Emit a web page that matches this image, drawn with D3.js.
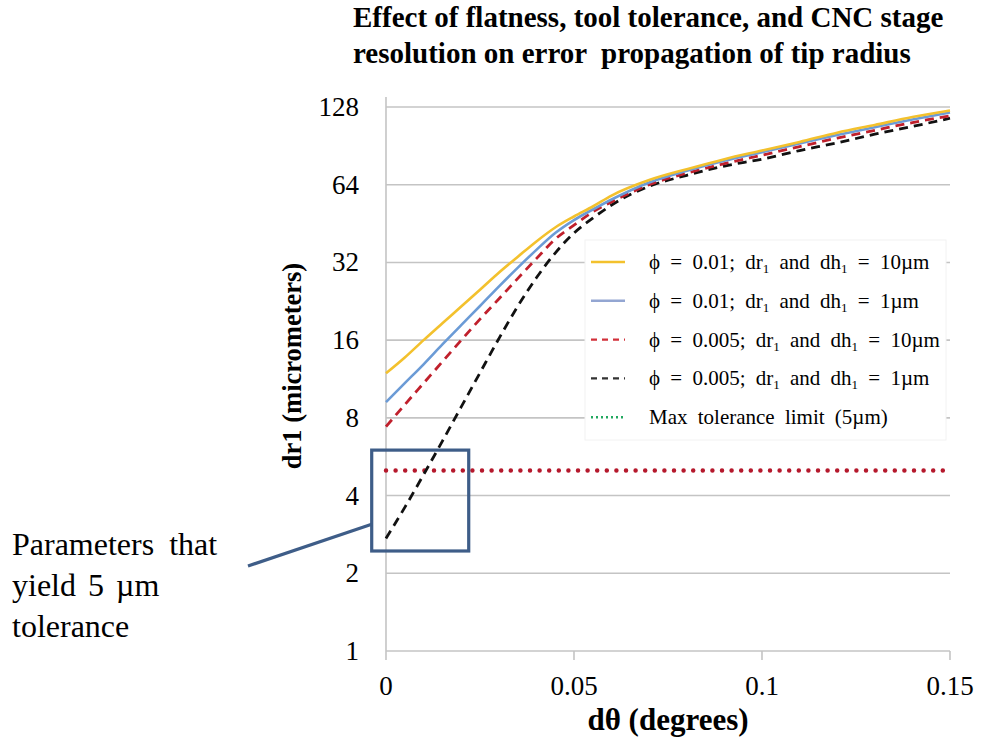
<!DOCTYPE html>
<html>
<head>
<meta charset="utf-8">
<script src="https://cdn.jsdelivr.net/npm/d3@7"></script>
<style>
  body { margin: 0; background: #fff; }
  text { font-family: "Liberation Serif", "Times New Roman", serif; fill: #000; }
</style>
</head>
<body>
<div id="chart"></div>
<script>
// data
const dtheta = [0, 0.005, 0.01, 0.015, 0.02, 0.025, 0.03, 0.035, 0.04, 0.045, 0.05,
  0.055, 0.06, 0.07, 0.08, 0.09, 0.1, 0.11, 0.12, 0.13, 0.14, 0.15];
const phi01_10um = [11.9, 13.7, 16, 18.6, 21.6, 25.1, 29.2, 33.6, 38.6, 43.7, 48.2,
  52.7, 58.1, 66.7, 73.5, 80.4, 86.8, 93.7, 101.8, 109.1, 117.0, 124.1];
const phi01_1um = [9.2, 10.9, 12.9, 15.4, 18.3, 21.7, 25.8, 30.5, 35.8, 41.6, 46.7,
  51.3, 56.1, 65.3, 72.5, 79.3, 85.6, 92.4, 99.7, 106.9, 114.5, 121.9];
const phi005_10um = [7.4, 9.0, 10.9, 13.2, 16, 19.3, 23.1, 27.7, 33.1, 39.4, 44.6,
  50.2, 54.9, 64, 71, 77.2, 83.3, 89.9, 97, 104, 111.4, 118.3];
const phi005_1um = [2.73, 3.6, 4.82, 6.5, 8.82, 11.96, 16.2, 21.6, 27.9, 34.8, 41.6,
  47.5, 53.4, 63.1, 69.6, 75.6, 80.4, 86.8, 93, 100.4, 107.6, 115.8];
const toleranceLimit = 5;

const yTicks = [1, 2, 4, 8, 16, 32, 64, 128];
const xTicks = [0, 0.05, 0.1, 0.15];
const xTickLabels = ["0", "0.05", "0.1", "0.15"];

// region of the parameters that give 5 um
const boxX = [-0.0038, 0.022];
const boxY = [2.44, 6.0];

const width = 981, height = 740;

const svg = d3.select("#chart")
  .append("svg")
  .attr("width", width)
  .attr("height", height)
  .attr("viewBox", [0, 0, width, height]);

const x = d3.scaleLinear().domain([0, 0.15]).range([386, 950]);
const y = d3.scaleLog().base(2).domain([1, 128]).range([651, 107]);

// gridlines
svg.append("g").selectAll("line")
  .data(yTicks)
  .join("line")
  .attr("x1", x(0))
  .attr("x2", x(0.15))
  .attr("y1", d => y(d))
  .attr("y2", d => y(d))
  .attr("stroke", "#c4c4c4")
  .attr("stroke-width", 1.6);

// y axis line + x ticks
svg.append("line")
  .attr("x1", x(0)).attr("x2", x(0))
  .attr("y1", y(128) - 10).attr("y2", y(1) + 9)
  .attr("stroke", "#c4c4c4").attr("stroke-width", 1.6);

svg.append("g").selectAll("line")
  .data(xTicks.slice(1))
  .join("line")
  .attr("x1", d => x(d)).attr("x2", d => x(d))
  .attr("y1", y(1)).attr("y2", y(1) + 9)
  .attr("stroke", "#c4c4c4").attr("stroke-width", 1.6);

// tick labels
svg.append("g").selectAll("text")
  .data(yTicks)
  .join("text")
  .attr("x", x(0) - 27)
  .attr("y", d => y(d) + 9)
  .attr("text-anchor", "end")
  .attr("font-size", 27)
  .text(d => d);

svg.append("g").selectAll("text")
  .data(xTicks)
  .join("text")
  .attr("x", d => x(d))
  .attr("y", 695)
  .attr("text-anchor", "middle")
  .attr("font-size", 27)
  .text((d, i) => xTickLabels[i]);

// axis titles
svg.append("text")
  .attr("x", 668)
  .attr("y", 730)
  .attr("text-anchor", "middle")
  .attr("font-size", 31)
  .attr("font-weight", "bold")
  .text("dθ (degrees)");

svg.append("text")
  .attr("transform", "translate(301,366) rotate(-90)")
  .attr("text-anchor", "middle")
  .attr("font-size", 26.5)
  .attr("font-weight", "bold")
  .text("dr1 (micrometers)");

// title
const title = svg.append("text")
  .attr("font-size", 29)
  .attr("font-weight", "bold");
title.append("tspan").attr("x", 353).attr("y", 27)
  .text("Effect of flatness, tool tolerance, and CNC stage");
title.append("tspan").attr("x", 353).attr("y", 63)
  .attr("xml:space", "preserve")
  .text("resolution on error  propagation of tip radius");

// tolerance limit (dotted)
svg.append("line")
  .attr("x1", x(0)).attr("x2", x(0.15))
  .attr("y1", y(toleranceLimit)).attr("y2", y(toleranceLimit))
  .attr("stroke", "#b5182c")
  .attr("stroke-width", 4.5)
  .attr("stroke-linecap", "round")
  .attr("stroke-dasharray", "0,9.6");

const series = [
  { values: phi005_1um, color: "#111111", dash: "9,6", w: 2.8 },
  { values: phi005_10um, color: "#c0202c", dash: "9,6", w: 2.8 },
  { values: phi01_1um, color: "#6b9bd6", dash: null, w: 2.6 },
  { values: phi01_10um, color: "#f3c12d", dash: null, w: 2.6 }
];

const line = d3.line()
  .x((d, i) => x(dtheta[i]))
  .y(d => y(d))
  .curve(d3.curveMonotoneX);

svg.append("g").selectAll("path")
  .data(series)
  .join("path")
  .attr("d", d => line(d.values))
  .attr("fill", "none")
  .attr("stroke", d => d.color)
  .attr("stroke-width", d => d.w)
  .attr("stroke-dasharray", d => d.dash);

// legend
const legendItems = [
  { parts: ["ϕ = 0.01; dr", "1", " and dh", "1", " = 10µm"], color: "#f3c12d", dash: null, w: 2.4 },
  { parts: ["ϕ = 0.01; dr", "1", " and dh", "1", " = 1µm"], color: "#93a6d2", dash: null, w: 2.4 },
  { parts: ["ϕ = 0.005; dr", "1", " and dh", "1", " = 10µm"], color: "#d2303a", dash: "6,5", w: 2.4 },
  { parts: ["ϕ = 0.005; dr", "1", " and dh", "1", " = 1µm"], color: "#333333", dash: "6,5", w: 2.4 },
  { parts: ["Max tolerance limit (5µm)"], color: "#22a860", dash: "2,3", w: 2.4 }
];

const legend = svg.append("g");
legend.append("rect")
  .attr("x", 585).attr("y", 240)
  .attr("width", 361).attr("height", 200)
  .attr("fill", "#fff")
  .attr("stroke", "#f2f2f2");

const rows = legend.selectAll("g.row")
  .data(legendItems)
  .join("g")
  .attr("class", "row")
  .attr("transform", (d, i) => `translate(0,${262 + i * 38.8})`);

rows.append("line")
  .attr("x1", 591).attr("x2", 625)
  .attr("stroke", d => d.color)
  .attr("stroke-width", d => d.w)
  .attr("stroke-dasharray", d => d.dash);

rows.append("text")
  .attr("x", 649)
  .attr("y", 7)
  .attr("font-size", 21)
  .attr("word-spacing", 5)
  .attr("fill", "#222")
  .each(function (d) {
    const t = d3.select(this);
    d.parts.forEach((p, i) => {
      const sub = i % 2 === 1;
      t.append("tspan")
        .attr("font-size", sub ? 13 : 21)
        .attr("dy", sub ? 4 : (i > 0 ? -4 : 0))
        .attr("xml:space", "preserve")
        .text(p);
    });
  });

// annotation box and leader
const annColor = "#3e5d88";
svg.append("rect")
  .attr("x", x(boxX[0]))
  .attr("y", y(boxY[1]))
  .attr("width", x(boxX[1]) - x(boxX[0]))
  .attr("height", y(boxY[0]) - y(boxY[1]))
  .attr("fill", "none")
  .attr("stroke", annColor)
  .attr("stroke-width", 3.2);

svg.append("line")
  .attr("x1", 248).attr("y1", 566)
  .attr("x2", x(boxX[0])).attr("y2", y(3.1))
  .attr("stroke", annColor)
  .attr("stroke-width", 3.2);

const note = svg.append("text")
  .attr("font-size", 32);
note.append("tspan").attr("x", 12).attr("y", 555).attr("word-spacing", 7).text("Parameters that");
note.append("tspan").attr("x", 12).attr("y", 596).attr("word-spacing", 4).text("yield 5 µm");
note.append("tspan").attr("x", 12).attr("y", 637).text("tolerance");
</script>
</body>
</html>
